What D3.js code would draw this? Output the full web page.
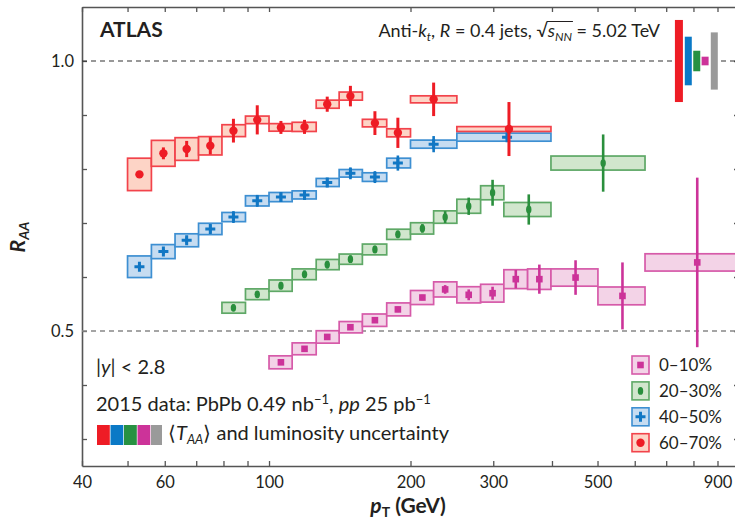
<!DOCTYPE html>
<html>
<head>
<meta charset="utf-8">
<script src="https://cdn.jsdelivr.net/npm/d3@7"></script>
<style>
  body { margin: 0; background: #fff; }
  text { font-family: Lato, "Open Sans", sans-serif; fill: #231f20; }
</style>
</head>
<body>
<svg id="chart" width="735" height="522"></svg>
<script>
// each row: [bin low, bin high, pT of marker, R_AA, stat err, sys err]
var cent0_10 = [
  [100, 112, 106, 0.442, 0.004, 0.012],
  [112, 126, 119, 0.467, 0.004, 0.011],
  [126, 141, 133, 0.489, 0.004, 0.0115],
  [141, 158, 149, 0.507, 0.004, 0.0105],
  [158, 178, 168, 0.520, 0.004, 0.0115],
  [178, 200, 188, 0.540, 0.005, 0.012],
  [200, 224, 212, 0.562, 0.005, 0.013],
  [224, 251, 237, 0.577, 0.008, 0.014],
  [251, 282, 266, 0.567, 0.010, 0.015],
  [282, 316, 299, 0.570, 0.012, 0.0165],
  [316, 355, 335, 0.596, 0.017, 0.0175],
  [355, 398, 376, 0.596, 0.027, 0.019],
  [398, 501, 449, 0.599, 0.032, 0.016],
  [501, 631, 565, 0.565, 0.062, 0.0165],
  [631, 1000, 815, 0.627, 0.157, 0.016]
];
var cent20_30 = [
  [79.4, 89.1, 84, 0.543, 0.006, 0.010],
  [89.1, 100, 94.4, 0.568, 0.006, 0.010],
  [100, 112, 106, 0.584, 0.007, 0.0105],
  [112, 126, 119, 0.605, 0.007, 0.010],
  [126, 141, 133, 0.623, 0.007, 0.0095],
  [141, 158, 149, 0.633, 0.007, 0.0095],
  [158, 178, 168, 0.651, 0.007, 0.010],
  [178, 200, 188, 0.679, 0.007, 0.0095],
  [200, 224, 212, 0.690, 0.008, 0.0105],
  [224, 251, 237, 0.711, 0.011, 0.0115],
  [251, 282, 266, 0.731, 0.016, 0.013],
  [282, 316, 299, 0.756, 0.024, 0.013],
  [316, 398, 357, 0.725, 0.028, 0.013],
  [398, 631, 514, 0.811, 0.053, 0.013]
];
var cent40_50 = [
  [50, 56.2, 53, 0.619, 0.005, 0.020],
  [56.2, 63.1, 59.6, 0.647, 0.005, 0.013],
  [63.1, 70.8, 66.8, 0.668, 0.006, 0.012],
  [70.8, 79.4, 75, 0.689, 0.008, 0.0105],
  [79.4, 89.1, 84, 0.711, 0.011, 0.0085],
  [89.1, 100, 94.4, 0.741, 0.011, 0.0095],
  [100, 112, 106, 0.748, 0.008, 0.0085],
  [112, 126, 119, 0.752, 0.008, 0.0075],
  [126, 141, 133, 0.775, 0.008, 0.0075],
  [141, 158, 149, 0.792, 0.011, 0.007],
  [158, 178, 168, 0.785, 0.011, 0.008],
  [178, 200, 188, 0.811, 0.014, 0.009],
  [200, 251, 224, 0.846, 0.015, 0.0075],
  [251, 398, 321, 0.859, 0.006, 0.0075]
];
var cent60_70 = [
  [50, 56.2, 53, 0.790, 0.006, 0.030],
  [56.2, 63.1, 59.6, 0.829, 0.011, 0.024],
  [63.1, 70.8, 66.8, 0.837, 0.015, 0.021],
  [70.8, 79.4, 75, 0.843, 0.016, 0.017],
  [79.4, 89.1, 84, 0.871, 0.022, 0.011],
  [89.1, 100, 94.4, 0.891, 0.027, 0.007],
  [100, 112, 106, 0.877, 0.012, 0.007],
  [112, 126, 119, 0.878, 0.013, 0.0085],
  [126, 141, 133, 0.920, 0.014, 0.0075],
  [141, 158, 149, 0.935, 0.019, 0.0075],
  [158, 178, 168, 0.885, 0.022, 0.007],
  [178, 200, 188, 0.867, 0.028, 0.0075],
  [200, 251, 224, 0.929, 0.031, 0.0065],
  [251, 398, 324, 0.874, 0.050, 0.0045]
];

var seriesData = [cent0_10, cent20_30, cent40_50, cent60_70];
var seriesNames = ["0\u201310%", "20\u201330%", "40\u201350%", "60\u201370%"];
var markerShapes = ["square", "diamond", "plus", "circle"];
var lineColors = ["#cc3399", "#2a8f3d", "#1177c4", "#ee1c25"];
var boxStrokes = ["#d65aa9", "#5ea866", "#3d8fd2", "#f2434b"];
var fillColors = ["#f3d3e7", "#d1e6cd", "#c6dcf1", "#fdd4c6"];

// <T_AA> and luminosity uncertainties drawn at R_AA = 1
var globalUnc = [0.076, 0.045, 0.019, 0.008, 0.053];
var globalPt = [745, 780, 813, 847, 886];
var globalColors = ["#ee1c25", "#0a79c6", "#279142", "#cc3399", "#9a9a9a"];

var xTicks = [40, 50, 60, 70, 80, 90, 100, 200, 300, 400, 500, 600, 700, 800, 900];
var xTickLabels = [40, 60, 100, 200, 300, 500, 900];
var yTicks = [0.3, 0.4, 0.5, 0.6, 0.7, 0.8, 0.9, 1.0];
var yTickLabels = [0.5, 1.0];

var svg = d3.select("#chart");
var plotL = 82, plotR = 739, plotT = 7, plotB = 466;

var x = d3.scaleLog().domain([40, 1000]).range([plotL, plotR]);
var y = d3.scaleLinear().domain([0.25, 1.1]).range([plotB, plotT]);

// frame + axes (ticks point inward)
var axisColor = "#555";
function styleAxis(g) {
  g.selectAll("path,line").attr("stroke", axisColor).attr("stroke-width", 1.3);
  g.selectAll("text").style("font-size", "16.5px").attr("fill", "#333");
}

svg.append("g")
  .attr("transform", "translate(0," + plotB + ")")
  .call(d3.axisBottom(x).tickValues(xTicks).tickSizeInner(-5).tickSizeOuter(0).tickPadding(10)
    .tickFormat(d => xTickLabels.indexOf(d) >= 0 ? d : ""))
  .call(styleAxis)
  .call(g => g.select(".domain").attr("stroke-width", 1.6));

svg.append("g")
  .attr("transform", "translate(0," + plotT + ")")
  .call(d3.axisTop(x).tickValues(xTicks).tickSizeInner(-5).tickSizeOuter(0).tickFormat(""))
  .call(styleAxis);

svg.append("g")
  .attr("transform", "translate(" + plotL + ",0)")
  .call(d3.axisLeft(y).tickValues(yTicks).tickSizeInner(-5).tickSizeOuter(0).tickPadding(8)
    .tickFormat(d => yTickLabels.indexOf(d) >= 0 ? d3.format(".1f")(d) : ""))
  .call(styleAxis)
  .call(g => g.select(".domain").attr("stroke-width", 1.6))
  .call(g => g.selectAll("text").attr("dy", "0.36em"));

svg.append("g")
  .attr("transform", "translate(" + plotR + ",0)")
  .call(d3.axisRight(y).tickValues(yTicks).tickSizeInner(-5).tickSizeOuter(0).tickFormat(""))
  .call(styleAxis);

// reference lines
svg.append("line")
  .attr("x1", plotL).attr("x2", plotR).attr("y1", y(1.0)).attr("y2", y(1.0))
  .attr("stroke", "#333").attr("stroke-width", 1.1).attr("stroke-dasharray", "5,4");
svg.append("line")
  .attr("x1", plotL).attr("x2", plotR).attr("y1", y(0.5)).attr("y2", y(0.5))
  .attr("stroke", "#888").attr("stroke-width", 1.3).attr("stroke-dasharray", "5,4");

// global uncertainty bars
svg.selectAll(".glob").data(globalUnc).enter().append("rect")
  .attr("class", "glob")
  .attr("x", (d, i) => x(globalPt[i]) - (i == 0 ? 4 : 3.5))
  .attr("width", (d, i) => i == 0 ? 8 : 7)
  .attr("y", d => y(1 + d))
  .attr("height", d => y(1 - d) - y(1 + d))
  .attr("fill", (d, i) => globalColors[i]);

// systematic boxes
seriesData.forEach(function(data, s) {
  svg.append("g").selectAll("rect").data(data).enter().append("rect")
    .attr("x", d => x(d[0]))
    .attr("width", d => x(d[1]) - x(d[0]))
    .attr("y", d => y(d[3] + d[5]))
    .attr("height", d => y(d[3] - d[5]) - y(d[3] + d[5]))
    .attr("fill", fillColors[s])
    .attr("stroke", boxStrokes[s])
    .attr("stroke-width", 1.7);
});

function drawMarker(g, shape, color) {
  if (shape == "circle") {
    g.append("circle").attr("r", 4.2).attr("fill", color);
  } else if (shape == "square") {
    g.append("rect").attr("x", -3.3).attr("y", -3.3).attr("width", 6.6).attr("height", 6.6).attr("fill", color);
  } else if (shape == "diamond") {
    g.append("ellipse").attr("rx", 2.7).attr("ry", 3.9).attr("fill", color);
  } else {
    g.append("path").attr("d", "M-5,-1.5H-1.5V-5H1.5V-1.5H5V1.5H1.5V5H-1.5V1.5H-5Z").attr("fill", color);
  }
}

// stat error bars + markers
seriesData.forEach(function(data, s) {
  var g = svg.append("g");
  g.selectAll("line").data(data).enter().append("line")
    .attr("x1", d => x(d[2])).attr("x2", d => x(d[2]))
    .attr("y1", d => y(d[3] + d[4])).attr("y2", d => y(d[3] - d[4]))
    .attr("stroke", lineColors[s])
    .attr("stroke-width", s == 3 ? 3 : 2.6);
  g.selectAll("g").data(data).enter().append("g")
    .attr("transform", d => "translate(" + x(d[2]) + "," + y(d[3]) + ")")
    .each(function() { drawMarker(d3.select(this), markerShapes[s], lineColors[s]); });
});

// legend
var legend = svg.append("g");
seriesNames.forEach(function(name, i) {
  var cy = 365 + i * 25.9;
  legend.append("rect").attr("x", 632).attr("y", cy - 9).attr("width", 17).attr("height", 18)
    .attr("fill", fillColors[i]).attr("stroke", boxStrokes[i]).attr("stroke-width", 1.6);
  drawMarker(legend.append("g").attr("transform", "translate(640.5," + cy + ")"), markerShapes[i], lineColors[i]);
  legend.append("text").attr("x", 659).attr("y", cy + 6).style("font-size", "17px").text(name);
});

// labels
svg.append("text").attr("x", 100).attr("y", 37)
  .style("font-size", "21px").style("font-weight", "bold").text("ATLAS");

var info = svg.append("text").attr("x", 660).attr("y", 37).attr("text-anchor", "end").style("font-size", "18px");
info.append("tspan").text("Anti-");
info.append("tspan").style("font-style", "italic").text("k");
info.append("tspan").attr("dy", 4).style("font-size", "12px").style("font-style", "italic").text("t");
info.append("tspan").attr("dy", -4).text(", ");
info.append("tspan").style("font-style", "italic").text("R");
info.append("tspan").text(" = 0.4 jets, \u221A");
info.append("tspan").style("font-style", "italic").text("s");
info.append("tspan").attr("dy", 4).style("font-size", "12px").style("font-style", "italic").text("NN");
info.append("tspan").attr("dy", -4).text(" = 5.02 TeV");
(function() {
  var node = info.node();
  var full = node.textContent;
  var i0 = full.indexOf("\u221A") + 1;
  var i1 = full.indexOf("NN") + 1;
  var x0 = node.getStartPositionOfChar(i0).x;
  var x1 = node.getEndPositionOfChar(i1).x;
  svg.append("line").attr("x1", x0 - 1).attr("x2", x1 + 1).attr("y1", 21.5).attr("y2", 21.5)
    .attr("stroke", "#231f20").attr("stroke-width", 1);
})();

var rap = svg.append("text").attr("x", 96).attr("y", 374).style("font-size", "20px");
rap.append("tspan").text("|");
rap.append("tspan").style("font-style", "italic").text("y");
rap.append("tspan").text("| < 2.8");

var lumi = svg.append("text").attr("x", 96).attr("y", 411).style("font-size", "20px");
lumi.append("tspan").text("2015 data: PbPb 0.49 nb");
lumi.append("tspan").attr("dy", -7).style("font-size", "13px").text("\u22121");
lumi.append("tspan").attr("dy", 7).text(", ");
lumi.append("tspan").style("font-style", "italic").text("pp");
lumi.append("tspan").text(" 25 pb");
lumi.append("tspan").attr("dy", -7).style("font-size", "13px").text("\u22121");

var swX = [97, 110.5, 124, 137.5, 151];
svg.selectAll(".sw").data(globalColors).enter().append("rect")
  .attr("class", "sw")
  .attr("x", (d, i) => swX[i]).attr("y", 425)
  .attr("width", (d, i) => i == 4 ? 11 : 12.8).attr("height", 20)
  .attr("fill", d => d);

var taa = svg.append("text").attr("x", 168).attr("y", 440).style("font-size", "20px");
taa.append("tspan").text("\u27E8");
taa.append("tspan").style("font-style", "italic").text("T");
taa.append("tspan").attr("dy", 4).style("font-size", "13px").style("font-style", "italic").text("AA");
taa.append("tspan").attr("dy", -4).text("\u27E9 and luminosity uncertainty");

var xl = svg.append("text").attr("x", 408).attr("y", 513).attr("text-anchor", "middle")
  .style("font-size", "21px").style("font-weight", "bold");
xl.append("tspan").style("font-style", "italic").text("p");
xl.append("tspan").attr("dy", 4).style("font-size", "14px").text("T");
xl.append("tspan").attr("dy", -4).text(" (GeV)");

var yl = svg.append("text").attr("transform", "translate(25,237) rotate(-90)").attr("text-anchor", "middle")
  .style("font-size", "21px").style("font-weight", "bold").style("font-style", "italic");
yl.append("tspan").text("R");
yl.append("tspan").attr("dy", 4).style("font-size", "14px").text("AA");
</script>
</body>
</html>
